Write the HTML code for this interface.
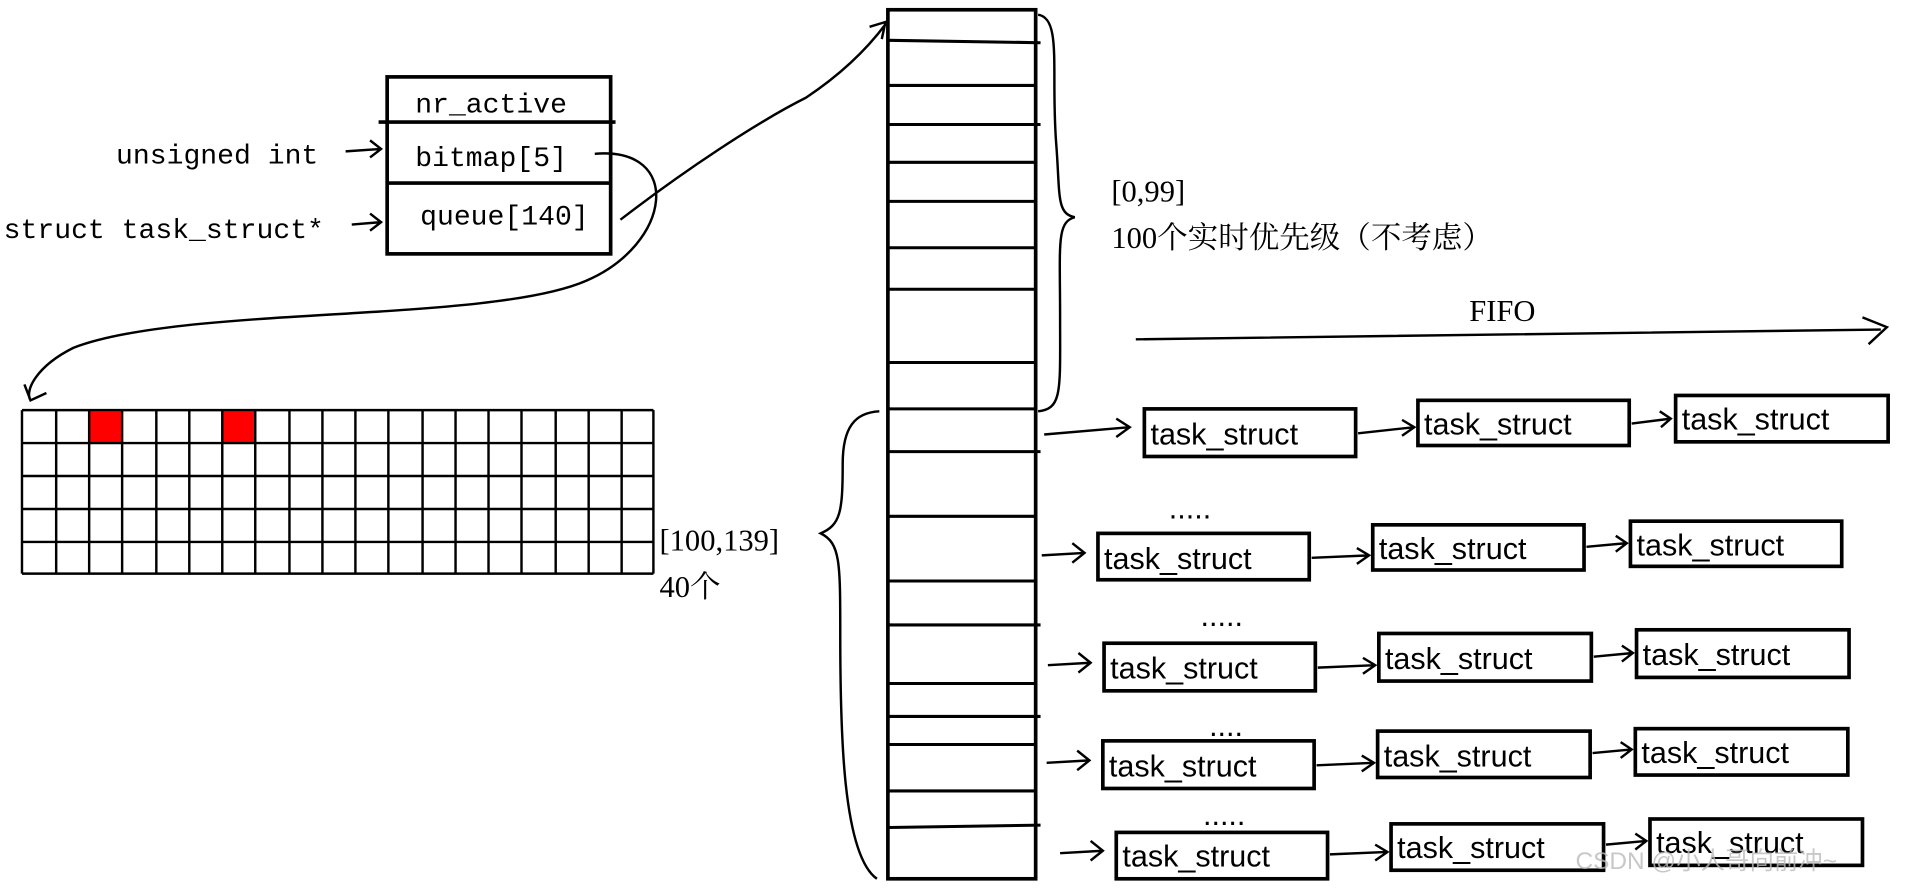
<!DOCTYPE html>
<html><head><meta charset="utf-8"><style>html,body{margin:0;padding:0;background:#fff}svg{display:block}</style></head>
<body>
<svg width="1915" height="891" viewBox="0 0 1568 730" preserveAspectRatio="none" xmlns="http://www.w3.org/2000/svg" font-family="'Liberation Mono','Noto Serif CJK SC',monospace" font-size="23">
<rect width="1568" height="730" fill="#fff"/>
<g fill="none" stroke="#000" stroke-width="2">
<rect x="317" y="63" width="183" height="145" stroke-width="3"/>
<line x1="310" y1="100" x2="504" y2="100" stroke-width="3"/>
<line x1="317" y1="150" x2="500" y2="150" stroke-width="3"/>
<path d="M283 124 L312 122 M303 115 L312 122 L303 129"/>
<path d="M288 184 L312 182 M303 175 L312 182 L303 189"/>
<path d="M487 126 C560 120 550 200 480 230 C400 265 150 250 60 285 C30 300 20 320 25 328 M20 315 L25 328 L38 322"/>
<path d="M508 180 C560 140 620 100 660 80 C690 60 710 40 725 20 M712 22 L725 18 L722 32"/>
<rect x="727" y="8" width="121" height="712" stroke-width="3"/>
<g stroke-width="2.5">
<line x1="727" y1="33" x2="852" y2="35"/><line x1="727" y1="70" x2="848" y2="70"/>
<line x1="727" y1="102" x2="852" y2="102"/><line x1="727" y1="133" x2="848" y2="133"/>
<line x1="727" y1="165" x2="848" y2="165"/><line x1="727" y1="203" x2="848" y2="203"/>
<line x1="727" y1="237" x2="848" y2="237"/><line x1="727" y1="297" x2="848" y2="297"/>
<line x1="727" y1="335" x2="848" y2="335"/><line x1="727" y1="370" x2="852" y2="370"/>
<line x1="727" y1="423" x2="848" y2="423"/><line x1="727" y1="476" x2="848" y2="476"/>
<line x1="727" y1="512" x2="852" y2="512"/><line x1="727" y1="560" x2="848" y2="560"/>
<line x1="727" y1="587" x2="852" y2="587"/><line x1="727" y1="610" x2="848" y2="610"/>
<line x1="727" y1="648" x2="848" y2="648"/><line x1="727" y1="678" x2="852" y2="676"/>
</g>
<path d="M850 12 C870 15 860 60 865 120 C868 160 865 175 880 178 C865 182 868 200 868 260 C868 320 870 335 850 337"/>
<path d="M720 337 C700 338 690 350 690 380 C690 420 688 430 672 437 C688 445 688 460 688 520 C688 600 690 700 718 720"/>
<path d="M930 278 C1100 275 1300 272 1540 270 M1525 260 L1545 268 L1530 282"/>
</g>
<g>
<rect x="73" y="337" width="27" height="26" fill="#f00"/>
<rect x="182" y="337" width="27" height="26" fill="#f00"/>
<g stroke="#000" stroke-width="2" fill="none">
<line x1="18" y1="336" x2="535" y2="336"/><line x1="18" y1="363" x2="535" y2="363"/>
<line x1="18" y1="390" x2="535" y2="390"/><line x1="18" y1="417" x2="535" y2="417"/>
<line x1="18" y1="444" x2="535" y2="444"/><line x1="18" y1="470" x2="535" y2="470"/>
<path d="M18 336 V470 M46 336 V470 M73 336 V470 M100 336 V470 M128 336 V470 M155 336 V470 M182 336 V470 M209 336 V470 M237 336 V470 M264 336 V470 M291 336 V470 M318 336 V470 M346 336 V470 M373 336 V470 M400 336 V470 M427 336 V470 M455 336 V470 M482 336 V470 M509 336 V470 M535 336 V470"/>
</g>
</g>
<g fill="#000">
<text x="340" y="92">nr_active</text>
<text x="340" y="136">bitmap[5]</text>
<text x="344" y="184">queue[140]</text>
<text x="95" y="134">unsigned int</text>
<text x="3" y="195">struct task_struct*</text>
<text x="910" y="165" font-family="'Liberation Serif','Noto Serif CJK SC',serif" font-size="25">[0,99]</text>
<text x="910" y="203" font-family="'Liberation Serif','Noto Serif CJK SC',serif" font-size="25">100个实时优先级（不考虑）</text>
<text x="1203" y="263" font-family="'Liberation Serif',serif" font-size="25">FIFO</text>
<text x="540" y="451" font-family="'Liberation Serif','Noto Serif CJK SC',serif" font-size="25">[100,139]</text>
<text x="540" y="489" font-family="'Liberation Serif','Noto Serif CJK SC',serif" font-size="25">40个</text>
</g>
<g font-family="'Liberation Sans',sans-serif" font-size="25" fill="#000">
<g fill="none" stroke="#000" stroke-width="3">
<rect x="937" y="335" width="173" height="39"/><rect x="1161" y="328" width="173" height="37"/><rect x="1372" y="324" width="174" height="38"/>
<rect x="899" y="437" width="173" height="38"/><rect x="1124" y="430" width="173" height="37"/><rect x="1335" y="427" width="173" height="37"/>
<rect x="904" y="527" width="173" height="39"/><rect x="1129" y="519" width="174" height="39"/><rect x="1340" y="516" width="174" height="39"/>
<rect x="903" y="607" width="173" height="39"/><rect x="1128" y="599" width="174" height="38"/><rect x="1339" y="597" width="174" height="38"/>
<rect x="914" y="682" width="173" height="38"/><rect x="1139" y="675" width="174" height="38"/><rect x="1351" y="671" width="174" height="38"/>
</g>
<g fill="none" stroke="#000" stroke-width="2">
<path d="M855 356 L925 350 M914 343 L925 350 L914 358"/>
<path d="M1112 355 L1158 350 M1148 344 L1158 350 L1148 357"/>
<path d="M1336 347 L1368 343 M1359 337 L1368 343 L1360 350"/>
<path d="M853 455 L888 453 M878 445 L888 453 L878 461"/>
<path d="M1074 457 L1121 455 M1111 449 L1121 455 L1111 462"/>
<path d="M1299 448 L1332 445 M1323 439 L1332 445 L1323 452"/>
<path d="M858 545 L893 543 M883 535 L893 543 L883 551"/>
<path d="M1079 547 L1126 545 M1116 539 L1126 545 L1116 552"/>
<path d="M1305 538 L1337 535 M1328 529 L1337 535 L1328 542"/>
<path d="M857 625 L892 623 M882 615 L892 623 L882 631"/>
<path d="M1078 627 L1125 625 M1115 619 L1125 625 L1115 632"/>
<path d="M1304 617 L1336 614 M1327 608 L1336 614 L1327 621"/>
<path d="M868 699 L903 697 M893 689 L903 697 L893 705"/>
<path d="M1089 700 L1136 698 M1126 692 L1136 698 L1126 705"/>
<path d="M1315 692 L1348 689 M1339 683 L1348 689 L1339 696"/>
</g>
<text x="942" y="364">task_struct</text><text x="1166" y="356">task_struct</text><text x="1377" y="352">task_struct</text>
<text x="904" y="466">task_struct</text><text x="1129" y="458">task_struct</text><text x="1340" y="455">task_struct</text>
<text x="909" y="556">task_struct</text><text x="1134" y="548">task_struct</text><text x="1345" y="545">task_struct</text>
<text x="908" y="636">task_struct</text><text x="1133" y="628">task_struct</text><text x="1344" y="625">task_struct</text>
<text x="919" y="710">task_struct</text><text x="1144" y="703">task_struct</text><text x="1356" y="699">task_struct</text>
<text x="957" y="425">.....</text><text x="983" y="513">.....</text><text x="990" y="603">....</text><text x="985" y="676">.....</text>
</g>
<text x="1290" y="712" font-family="'Liberation Sans','Noto Sans CJK SC',sans-serif" font-size="20" fill="#bbb" opacity="0.8">CSDN @小人哥向前冲~</text>
</svg>
</body></html>
